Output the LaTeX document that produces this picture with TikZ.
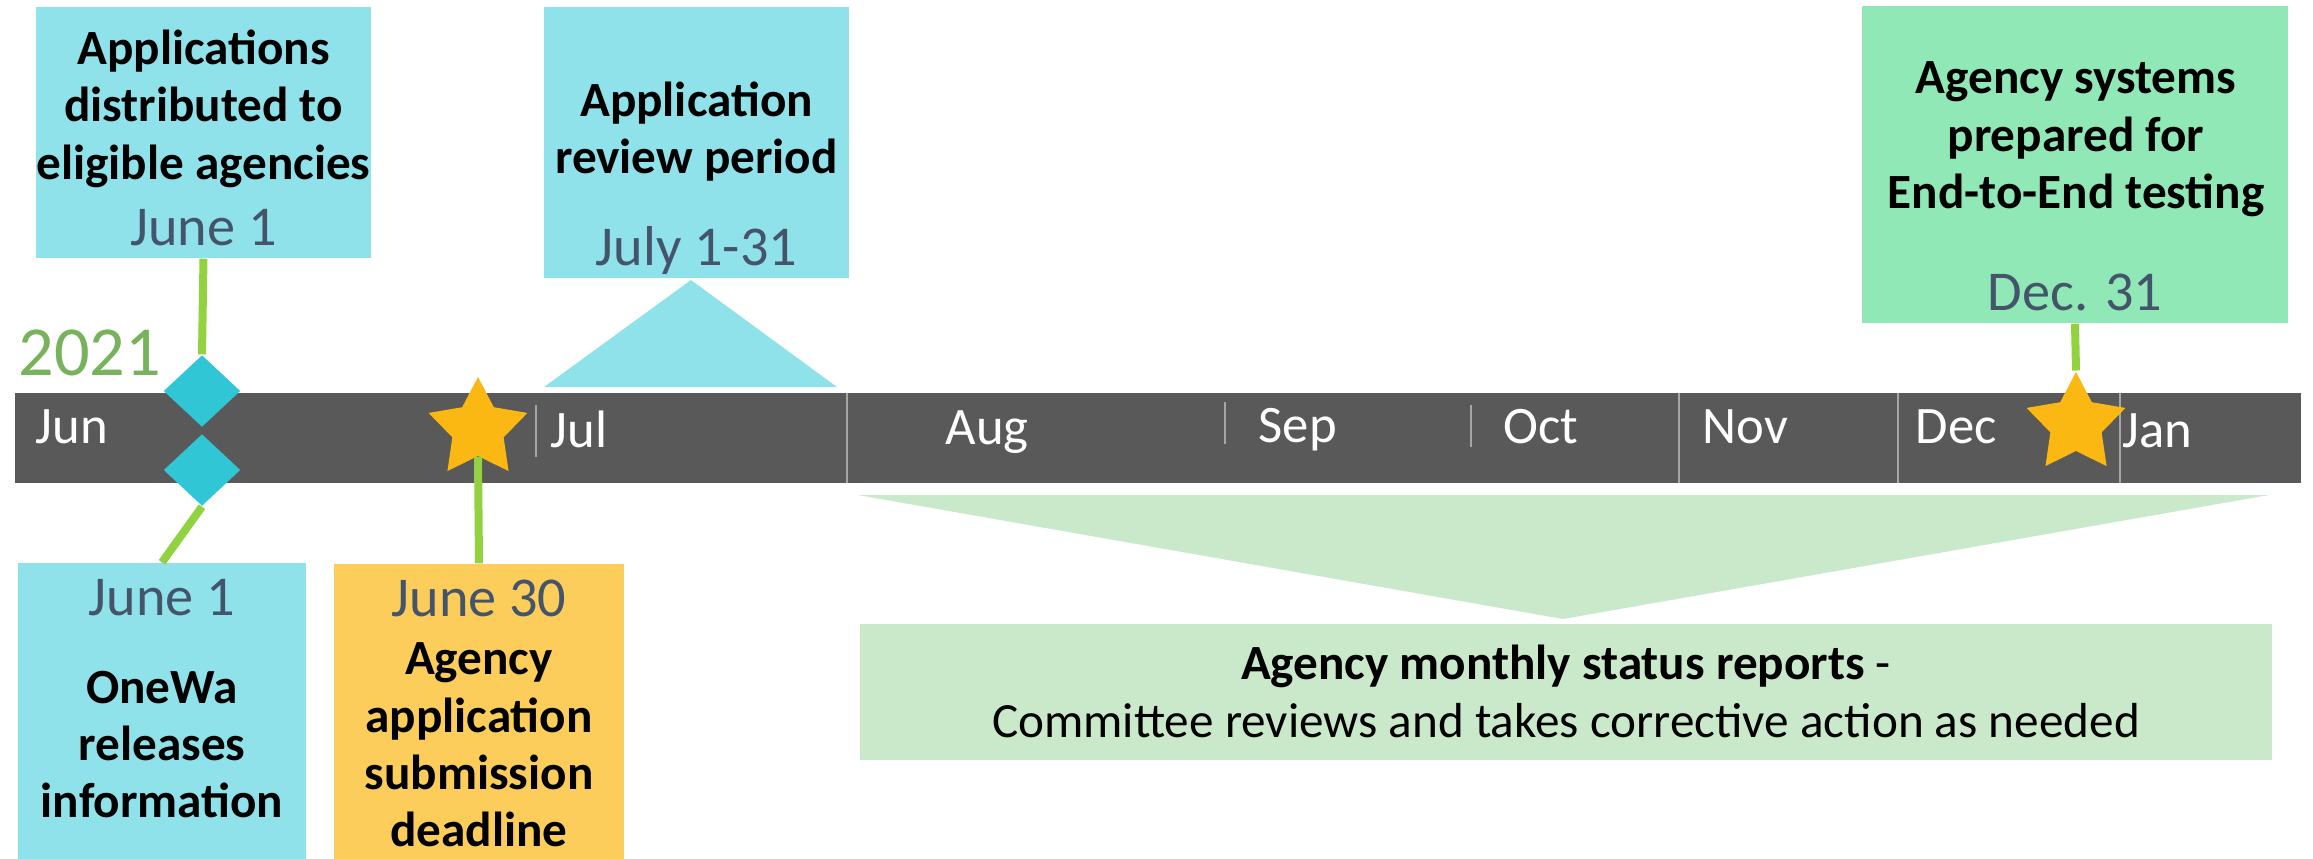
\documentclass[tikz,border=0pt]{standalone}
\usepackage{fontspec}
\setmainfont{Carlito}
\usetikzlibrary{shapes.geometric}

\definecolor{bargray}{RGB}{89,89,89}
\definecolor{boxcyan}{RGB}{143,225,234}
\definecolor{diacyan}{RGB}{49,198,214}
\definecolor{staryellow}{RGB}{252,184,18}
\definecolor{boxorange}{RGB}{252,205,90}
\definecolor{boxmint}{RGB}{143,232,182}
\definecolor{boxgreen}{RGB}{202,233,203}
\definecolor{linegreen}{RGB}{146,209,64}
\definecolor{datetext}{RGB}{68,84,106}
\definecolor{yeargreen}{RGB}{120,178,92}

\begin{document}
\begin{tikzpicture}[x = 0.1mm, y = -0.1mm,
	box/.style = {rectangle, inner sep = 0, fill = #1},
	body/.style = {align = center, inner sep = 0, font = \bfseries\fontsize{14}{16.35}\selectfont},
	date/.style = {anchor = base, inner sep = 0, text = datetext, font = \fontsize{16}{19}\selectfont},
	month/.style = {anchor = base west, inner sep = 0, text = white, font = \fontsize{15}{18}\selectfont},
	monthline/.style = {draw = gray!70, line width = 0.2mm},
	link/.style = {draw = linegreen, line width = 0.8mm},
	gem/.style = {diamond, fill = diacyan, inner sep = 0, minimum width = 7.7mm, minimum height = 7.2mm},
	starmark/.style = {star, star points = 5, star point ratio = 1.93, fill = staryellow, inner sep = 0, minimum size = 10.4mm}]
	%	page
	\useasboundingbox (0, 0) rectangle (2313, 858);
	
	%	timeline bar
	\def\bartop{393}
	\def\barbot{483}
	\fill[bargray] (15, \bartop) rectangle (2301, \barbot);
	\foreach \x in {847, 1679, 1898, 2120}
		\draw[monthline] (\x, \bartop) -- (\x, \barbot);
	\draw[monthline] (536, 405) -- (536, 457);
	\draw[monthline] (1225, 402) -- (1225, 444);
	\draw[monthline] (1471, 405) -- (1471, 447);
	\foreach \x/\y/\m in {35/443/Jun, 550/447/Jul, 945/444/Aug, 1258/442/Sep, 1503/443/Oct, 1702/443/Nov, 1915/443/Dec, 2122/447/Jan}
		\node[month] (\m) at (\x, \y) {\m};
	\node[anchor = base west, inner sep = 0, text = yeargreen, font = \fontsize{20}{24}\selectfont] (year) at (18, 375) {2021};
	
	%	periods
	\fill[boxcyan] (544, 387) -- (691, 280) -- (837, 387) -- cycle;
	\fill[boxgreen] (858, 495) -- (2269, 495) -- (1563, 619) -- cycle;
	
	%	boxes
	\node[box = boxcyan, minimum width = 33.5mm, minimum height = 25.1mm] (apps) at (203.5, 132.5) {};
	\node[body] (appstext) at (203.5, 108.5) {Applications\\distributed to\\eligible agencies};
	\node[date] (appsdate) at (203.5, 245) {June 1};
	
	\node[box = boxcyan, minimum width = 30.5mm, minimum height = 27.1mm] (review) at (696.5, 142.5) {};
	\node[body] (reviewtext) at (696.5, 131.5) {Application\\review period};
	\node[date] (reviewdate) at (696.5, 265) {July 1-31};
	
	\node[box = boxcyan, minimum width = 28.8mm, minimum height = 30.7mm] (release) at (162, 716.5) {};
	\node[date] (releasedate) at (162, 615) {June 1};
	\node[body] (releasetext) at (162, 744.5) {OneWa\\releases\\information};
	
	\node[box = boxorange, minimum width = 29mm, minimum height = 30.6mm] (deadline) at (479, 717) {};
	\node[date] (deadlinedate) at (479, 616) {June 30};
	\node[body] (deadlinetext) at (479, 745) {Agency\\application\\submission\\deadline};
	
	\node[box = boxgreen, minimum width = 141.2mm, minimum height = 13.6mm] (reports) at (1566, 692) {};
	\node[body, font = \fontsize{14}{16.35}\selectfont] (reportstext) at (1566, 691.5) {\textbf{Agency monthly status reports} -\\Committee reviews and takes corrective action as needed};
	
	\node[box = boxmint, minimum width = 42.6mm, minimum height = 31.7mm] (testing) at (2075, 164.5) {};
	\node[body] (testingtext) at (2076, 139.5) {Agency systems\\prepared for\\End-to-End testing};
	\node[date] (testingdate) at (2075, 310) {Dec. 31};
	
	%	milestones
	\node[gem] (d1) at (202, 391) {};
	\node[gem] (d2) at (202, 470) {};
	\node[starmark] (s1) at (478, 429) {};
	\node[starmark] (s2) at (2076, 424) {};
	
	%	links
	\draw[link] (apps.south) -- (d1.north);
	\draw[link] (d2.south) -- (release.north);
	\draw[link] (s1.south) -- (deadline.north);
	\draw[link] (testing.south) -- (s2.north);
\end{tikzpicture}
\end{document}
